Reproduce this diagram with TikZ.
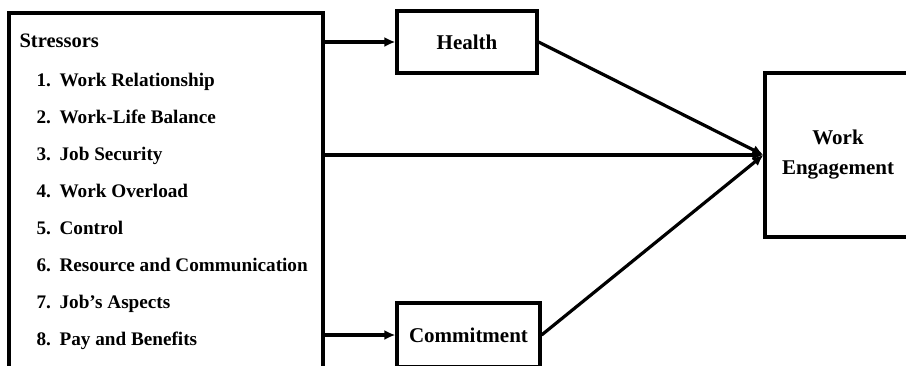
\documentclass[tikz,border=0pt]{standalone}
\usepackage{fontspec}
\setmainfont{Liberation Serif}
\usetikzlibrary{arrows.meta}

\newcommand{\num}[1]{\makebox[23pt][l]{#1}}

\begin{document}
\begin{tikzpicture}[x=1pt, y=-1pt, line width=3.2pt,
        box/.style = {draw, rectangle, inner sep=0pt, align=center, font=\fontsize{21}{30}\selectfont\bfseries},
        item/.style = {inner sep=0pt, anchor=west, text height=0.7em, text depth=0.25em, font=\fontsize{19.2}{23}\selectfont\bfseries},
        link/.style = {-{Latex[length=11pt,width=10pt]}}]
        \clip (0,0) rectangle (906,365);

        \node[box, minimum width=314pt, minimum height=359pt] (frame) at (166,192.5) {};
        \node[box, minimum width=140pt, minimum height=62pt] (health) at (467,42) {Health};
        \node[box, minimum width=143pt, minimum height=64pt] (commit) at (468.5,335) {Commitment};
        \node[box, minimum width=146pt, minimum height=164pt] (engage) at (838,155) {Work\\Engagement};

        \node[item, font=\fontsize{20.5}{24}\selectfont\bfseries] (title) at (18,45) {Stressors};
        \node[item] (s1) at (35,84) {\num{1.}Work Relationship};
        \node[item] (s2) at ([yshift=-37.1pt]s1.west) {\num{2.}Work-Life Balance};
        \node[item] (s3) at ([yshift=-37.1pt]s2.west) {\num{3.}Job Security};
        \node[item] (s4) at ([yshift=-37.1pt]s3.west) {\num{4.}Work Overload};
        \node[item] (s5) at ([yshift=-37.1pt]s4.west) {\num{5.}Control};
        \node[item] (s6) at ([yshift=-37.1pt]s5.west) {\num{6.}Resource and Communication};
        \node[item] (s7) at ([yshift=-37.1pt]s6.west) {\num{7.}Job's Aspects};
        \node[item] (s8) at ([yshift=-37.1pt]s7.west) {\num{8.}Pay and Benefits};

        \draw[link] (frame.east |- health.west) -- (health.west);
        \draw[link] (frame.east |- commit.west) -- (commit.west);
        \draw[link] (frame.east |- engage.west) -- (engage.west);
        \draw[link] (health.east) -- (engage.west);
        \draw[link] (commit.east) -- (engage.west);

    \end{tikzpicture}
\end{document}
